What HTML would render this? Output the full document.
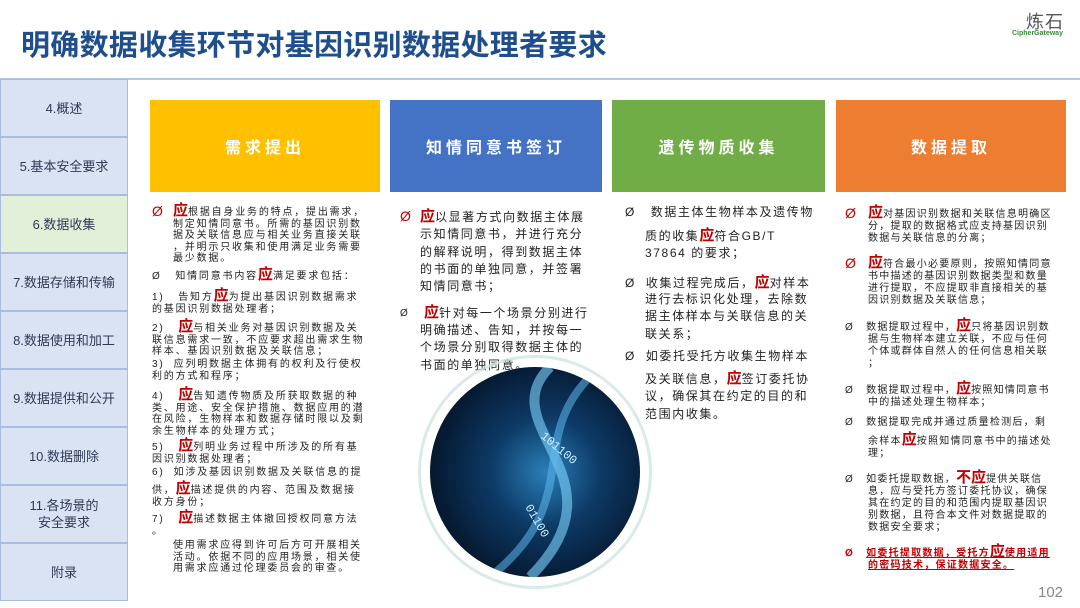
<!DOCTYPE html>
<html><head><meta charset="utf-8"><style>
*{margin:0;padding:0;box-sizing:border-box}
body{width:1080px;height:608px;overflow:hidden;background:#fff;position:relative;font-family:"Liberation Sans","Noto Sans CJK SC",sans-serif;color:#222}
.a{position:absolute;white-space:nowrap}
.title{left:21px;top:22px;font-size:29px;font-weight:bold;color:#1f4e8c;letter-spacing:0.3px}
.hl{left:0;top:78px;width:1080px;height:2px;background:#b4c7e7}
.side{position:absolute;left:0;width:128px;height:58px;background:#dae3f3;border:1px solid #a9bde0;display:flex;align-items:center;justify-content:center;text-align:center;font-size:13px;color:#2f3a55;line-height:17px}
.hd{position:absolute;top:100px;height:92px;display:flex;align-items:center;justify-content:center;color:#fff;font-size:16px;font-weight:bold;letter-spacing:4px}
.t1{font-size:10px;letter-spacing:1.8px;line-height:11.5px}
.t2{font-size:12px;letter-spacing:1.6px;line-height:17.3px}
.t4{font-size:10px;letter-spacing:1.25px;line-height:12px}
.y{color:#c00000;font-weight:bold;font-size:15px;letter-spacing:0}
.r{color:#c00000;font-size:14px}
.b{font-size:10px}
</style></head><body>
<div class="a title">明确数据收集环节对基因识别数据处理者要求</div>
<div class="a" style="left:1026px;top:8px;font-size:18px;color:#555;letter-spacing:1px">炼石</div>
<div class="a" style="left:1012px;top:30px;font-size:7px;color:#3a8a3a;font-weight:bold">CipherGateway</div>
<div class="a hl"></div>

<div class="side" style="top:79px">4.概述</div>
<div class="side" style="top:137px">5.基本安全要求</div>
<div class="side" style="top:195px;background:#e2efd9">6.数据收集</div>
<div class="side" style="top:253px">7.数据存储和传输</div>
<div class="side" style="top:311px">8.数据使用和加工</div>
<div class="side" style="top:369px">9.数据提供和公开</div>
<div class="side" style="top:427px">10.数据删除</div>
<div class="side" style="top:485px">11.各场景的<br>安全要求</div>
<div class="side" style="top:543px">附录</div>

<div class="hd" style="left:150px;width:230px;background:#ffc000">需求提出</div>
<div class="hd" style="left:390px;width:212px;background:#4472c4">知情同意书签订</div>
<div class="hd" style="left:612px;width:213px;background:#70ad47">遗传物质收集</div>
<div class="hd" style="left:836px;width:230px;background:#ed7d31">数据提取</div>

<!-- col1 -->
<div class="a r" style="left:152px;top:203px">Ø</div>
<div class="a t1" style="left:173px;top:205px"><span class="y">应</span>根据自身业务的特点，提出需求，<br>制定知情同意书。所需的基因识别数<br>据及关联信息应与相关业务直接关联<br>，并明示只收集和使用满足业务需要<br>最少数据。</div>
<div class="a t1" style="left:152px;top:269px">Ø&nbsp;&nbsp;&nbsp;知情同意书内容<span class="y">应</span>满足要求包括：</div>
<div class="a t1" style="left:152px;top:290px">1)&nbsp;&nbsp;&nbsp;告知方<span class="y">应</span>为提出基因识别数据需求<br>的基因识别数据处理者；</div>
<div class="a t1" style="left:152px;top:321px">2)&nbsp;&nbsp;&nbsp;<span class="y">应</span>与相关业务对基因识别数据及关<br>联信息需求一致，不应要求超出需求生物<br>样本、基因识别数据及关联信息；</div>
<div class="a t1" style="left:152px;top:359px">3)&nbsp;&nbsp;应列明数据主体拥有的权利及行使权<br>利的方式和程序；</div>
<div class="a t1" style="left:152px;top:389px">4)&nbsp;&nbsp;&nbsp;<span class="y">应</span>告知遗传物质及所获取数据的种<br>类、用途、安全保护措施、数据应用的潜<br>在风险，生物样本和数据存储时限以及剩<br>余生物样本的处理方式；</div>
<div class="a t1" style="left:152px;top:440px">5)&nbsp;&nbsp;&nbsp;<span class="y">应</span>列明业务过程中所涉及的所有基<br>因识别数据处理者；</div>
<div class="a t1" style="left:152px;top:467px">6)&nbsp;&nbsp;如涉及基因识别数据及关联信息的提</div>
<div class="a t1" style="left:152px;top:483px">供，<span class="y">应</span>描述提供的内容、范围及数据接<br>收方身份；</div>
<div class="a t1" style="left:152px;top:512px">7)&nbsp;&nbsp;&nbsp;<span class="y">应</span>描述数据主体撤回授权同意方法<br>。</div>
<div class="a t1" style="left:173px;top:540px">使用需求应得到许可后方可开展相关<br>活动。依据不同的应用场景，相关使<br>用需求应通过伦理委员会的审查。</div>

<!-- col2 -->
<div class="a r" style="left:400px;top:208px">Ø</div>
<div class="a t2" style="left:420px;top:208px"><span class="y">应</span>以显著方式向数据主体展<br>示知情同意书，并进行充分<br>的解释说明，得到数据主体<br>的书面的单独同意，并签署<br>知情同意书；</div>
<div class="a b" style="left:400px;top:308px">Ø</div>
<div class="a t2" style="left:424px;top:304px"><span class="y">应</span>针对每一个场景分别进行</div>
<div class="a t2" style="left:420px;top:322px">明确描述、告知，并按每一<br>个场景分别取得数据主体的<br>书面的单独同意。</div>

<!-- image -->
<div class="a" style="left:418px;top:355px;width:234px;height:234px;border-radius:50%;border:3px solid #cfe6e0;opacity:.8"></div>
<div class="a" style="left:430px;top:367px;width:210px;height:210px;border-radius:50%;background:radial-gradient(circle at 55% 50%,#2a7fb8 0%,#0d3a66 35%,#061a33 70%,#02101f 100%);overflow:hidden">
<svg width="210" height="210" style="position:absolute;left:0;top:0"><path d="M120 0 C60 60 200 110 100 210" stroke="#7fd4ff" stroke-width="10" fill="none" opacity=".6"/><path d="M170 0 C90 70 160 130 60 210" stroke="#5fb8f0" stroke-width="8" fill="none" opacity=".55"/><text x="110" y="70" fill="#cdefff" font-size="12" font-family="Liberation Mono" transform="rotate(40 110 70)">101100</text><text x="95" y="140" fill="#cdefff" font-size="12" font-family="Liberation Mono" transform="rotate(60 95 140)">01100</text></svg>
</div>

<!-- col3 -->
<div class="a t2" style="left:625px;top:204px">Ø&nbsp;&nbsp;&nbsp;数据主体生物样本及遗传物</div>
<div class="a t2" style="left:645px;top:227px">质的收集<span class="y">应</span>符合GB/T<br>37864 的要求；</div>
<div class="a t2" style="left:625px;top:274px">Ø&nbsp;&nbsp;收集过程完成后，<span class="y">应</span>对样本</div>
<div class="a t2" style="left:645px;top:291px">进行去标识化处理，去除数<br>据主体样本与关联信息的关<br>联关系；</div>
<div class="a t2" style="left:625px;top:348px">Ø&nbsp;&nbsp;如委托受托方收集生物样本</div>
<div class="a t2" style="left:645px;top:370px">及关联信息，<span class="y">应</span>签订委托协<br>议，确保其在约定的目的和<br>范围内收集。</div>

<!-- col4 -->
<div class="a r" style="left:845px;top:205px">Ø</div>
<div class="a t4" style="left:868px;top:207px"><span class="y">应</span>对基因识别数据和关联信息明确区<br>分，提取的数据格式应支持基因识别<br>数据与关联信息的分离；</div>
<div class="a r" style="left:845px;top:255px">Ø</div>
<div class="a t4" style="left:868px;top:257px"><span class="y">应</span>符合最小必要原则，按照知情同意<br>书中描述的基因识别数据类型和数量<br>进行提取，不应提取非直接相关的基<br>因识别数据及关联信息；</div>
<div class="a t4" style="left:845px;top:320px">Ø&nbsp;&nbsp;&nbsp;数据提取过程中，<span class="y">应</span>只将基因识别数<br><span style="padding-left:23px">据与生物样本建立关联，不应与任何</span><br><span style="padding-left:23px">个体或群体自然人的任何信息相关联</span><br><span style="padding-left:23px">；</span></div>
<div class="a t4" style="left:845px;top:383px">Ø&nbsp;&nbsp;&nbsp;数据提取过程中，<span class="y">应</span>按照知情同意书<br><span style="padding-left:23px">中的描述处理生物样本；</span></div>
<div class="a t4" style="left:845px;top:417px">Ø&nbsp;&nbsp;&nbsp;数据提取完成并通过质量检测后，剩</div>
<div class="a t4" style="left:868px;top:434px">余样本<span class="y">应</span>按照知情同意书中的描述处<br>理；</div>
<div class="a t4" style="left:845px;top:472px">Ø&nbsp;&nbsp;&nbsp;如委托提取数据，<span class="y">不应</span>提供关联信<br><span style="padding-left:23px">息，应与受托方签订委托协议，确保</span><br><span style="padding-left:23px">其在约定的目的和范围内提取基因识</span><br><span style="padding-left:23px">别数据，且符合本文件对数据提取的</span><br><span style="padding-left:23px">数据安全要求；</span></div>
<div class="a t4" style="left:845px;top:546px;color:#c00000;font-weight:bold">Ø&nbsp;&nbsp;&nbsp;<u>如委托提取数据，受托方<span class="y">应</span>使用适用</u><br><span style="padding-left:23px"><u>的密码技术，保证数据安全。</u></span></div>

<div class="a" style="left:1038px;top:584px;font-size:15px;color:#888">102</div>
</body></html>
